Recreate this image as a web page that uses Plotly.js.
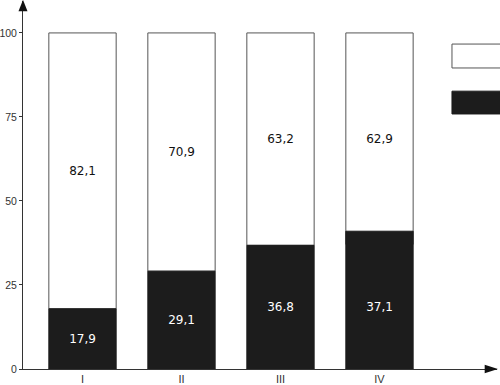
<!DOCTYPE html>
<html>
<head>
<meta charset="utf-8">
<script src="https://cdn.plot.ly/plotly-3.0.1.min.js"></script>
<style>html,body{margin:0;padding:0;background:#fff;}#chart{width:500px;height:385px;}</style>
</head>
<body>
<div id="chart"></div>
<script>
// Data
var categories = ['I', 'II', 'III', 'IV'];
var darkValues = [17.9, 29.1, 36.8, 37.1];     // labelled values (black segment)
var lightValues = [82.1, 70.9, 63.2, 62.9];    // labelled values (white segment)
var darkDrawn = [17.9, 29.1, 36.8, 41.0];      // black segment heights as drawn in the picture
var yTicks = [0, 25, 50, 75, 100];

function fmt(v) { return v.toFixed(1).replace('.', ','); }

var FONT = 'DejaVu Sans, sans-serif';
var TICKFONT = 'Liberation Sans, Arial, sans-serif';
var W = 0.68;

var traces = [
  {
    type: 'bar', x: categories, y: lightValues, base: darkValues, width: W,
    marker: {color: '#ffffff', line: {color: '#555555', width: 1}},
    text: lightValues.map(fmt), textposition: 'inside', insidetextanchor: 'middle',
    textangle: 0, textfont: {family: FONT, size: 12, color: '#111111'},
    hoverinfo: 'x+y', showlegend: false
  },
  {
    type: 'bar', x: categories, y: darkDrawn, width: W,
    marker: {color: '#1c1c1c', line: {color: '#1c1c1c', width: 1}},
    hoverinfo: 'x+y', showlegend: false
  },
  {
    type: 'bar', x: categories, y: darkValues, width: W,
    marker: {color: 'rgba(0,0,0,0)', line: {width: 0}},
    text: darkValues.map(fmt), textposition: 'inside', insidetextanchor: 'middle',
    textangle: 0, textfont: {family: FONT, size: 12, color: '#ffffff'},
    hoverinfo: 'skip', showlegend: false
  }
];

var layout = {
  width: 500, height: 385,
  margin: {l: 23, r: 3, t: 1, b: 16, pad: 0},
  paper_bgcolor: '#ffffff', plot_bgcolor: '#ffffff',
  barmode: 'overlay',
  showlegend: false,
  font: {family: TICKFONT, size: 11, color: '#222222'},
  xaxis: {
    type: 'category', range: [-0.601, 4.187],
    showline: true, linecolor: '#333333', linewidth: 1,
    ticks: '', showgrid: false, zeroline: false,
    tickfont: {family: TICKFONT, size: 11, color: '#333333'}
  },
  yaxis: {
    range: [0, 109.5], tickvals: yTicks, ticktext: yTicks.map(String),
    showline: true, linecolor: '#333333', linewidth: 1,
    ticks: 'outside', ticklen: 3, tickcolor: '#333333',
    ticklabelstandoff: 0,
    showgrid: false, zeroline: false,
    tickfont: {family: TICKFONT, size: 10.5, color: '#333333'}
  },
  shapes: [
    // y-axis arrow head
    {type: 'path', xref: 'paper', yref: 'paper',
     path: 'M 0 1.003 L -0.0095 0.972 L 0.0095 0.972 Z',
     fillcolor: '#111111', line: {width: 0}},
    // x-axis arrow head
    {type: 'path', xref: 'paper', yref: 'paper',
     path: 'M 1.002 0 L 0.974 0.0118 L 0.974 -0.0118 Z',
     fillcolor: '#111111', line: {width: 0}},
    // legend boxes
    {type: 'rect', xref: 'paper', yref: 'paper', x0: 0.905, x1: 1.01, y0: 0.818, y1: 0.883,
     fillcolor: '#ffffff', line: {color: '#555555', width: 1}},
    {type: 'rect', xref: 'paper', yref: 'paper', x0: 0.905, x1: 1.01, y0: 0.693, y1: 0.755,
     fillcolor: '#1c1c1c', line: {color: '#1c1c1c', width: 1}}
  ]
};

Plotly.newPlot('chart', traces, layout, {staticPlot: true, displayModeBar: false});
</script>
</body>
</html>
